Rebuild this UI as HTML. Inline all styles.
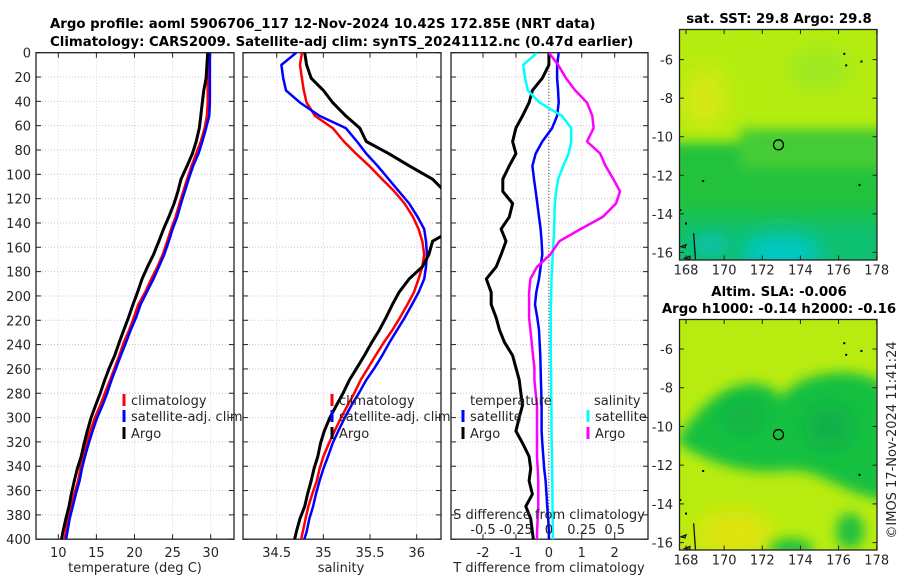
<!DOCTYPE html>
<html><head><meta charset="utf-8">
<style>
html,body{margin:0;padding:0;background:#fff;}
svg{display:block;font-family:"DejaVu Sans","Liberation Sans",sans-serif;}
.tk{font-size:13px;fill:#262626;}
.ttl{font-size:13.3px;font-weight:bold;fill:#000;}
</style></head>
<body>
<svg id="chart" width="900" height="580" viewBox="0 0 900 580" xmlns="http://www.w3.org/2000/svg">
<defs>
<filter id="blur6" x="-50%" y="-50%" width="200%" height="200%"><feGaussianBlur stdDeviation="6"/></filter>
<filter id="blur10" x="-50%" y="-50%" width="200%" height="200%"><feGaussianBlur stdDeviation="10"/></filter>
<clipPath id="cp1"><rect x="36" y="52.7" width="198" height="486.5"/></clipPath>
<clipPath id="cp2"><rect x="243" y="52.7" width="198" height="486.5"/></clipPath>
<clipPath id="cp3"><rect x="451" y="52.7" width="197" height="486.5"/></clipPath>
<clipPath id="cpm1"><rect x="679.5" y="29.5" width="197.5" height="230.5"/></clipPath>
<clipPath id="cpm2"><rect x="679.5" y="319.5" width="197.5" height="230.5"/></clipPath>
</defs>
<text class="ttl" x="50" y="28">Argo profile: aoml 5906706_117 12-Nov-2024 10.42S 172.85E (NRT data)</text>
<text class="ttl" x="50" y="46">Climatology: CARS2009. Satellite-adj clim: synTS_20241112.nc (0.47d earlier)</text>
<g id="plots"></g>
</svg>
<script>
// depth levels (m)
const depths = [0,10,21,31,41,52,62,73,83,93,104,114,124,135,145,155,166,176,186,197,207,218,228,238,249,259,269,280,290,300,311,321,332,342,352,363,373,383,394,404,414];
const tClim = [29.6,29.6,29.6,29.6,29.6,29.5,29.2,28.7,28.1,27.5,26.9,26.4,25.9,25.4,24.8,24.3,23.7,23.0,22.2,21.4,20.5,19.9,19.3,18.6,18.0,17.4,16.8,16.1,15.5,14.8,14.2,13.7,13.2,12.9,12.6,12.1,11.7,11.3,11.0,10.7,10.4];
const tSat = [29.9,29.9,29.9,29.9,29.9,29.8,29.4,28.9,28.4,27.7,27.1,26.6,26.1,25.6,25.0,24.5,23.9,23.2,22.5,21.6,20.8,20.2,19.5,18.9,18.2,17.6,17.0,16.4,15.8,15.1,14.5,14.0,13.5,13.1,12.8,12.3,11.9,11.5,11.2,10.9,10.6];
const tArgo = [29.6,29.5,29.4,29.1,28.9,28.7,28.5,28.1,27.6,26.9,26.1,25.7,25.2,24.5,23.8,23.2,22.5,21.7,21.0,20.4,19.8,19.2,18.6,18.0,17.4,16.7,16.1,15.5,14.9,14.3,13.8,13.4,13.0,12.5,12.1,11.7,11.4,11.0,10.6,10.3,10.1];
const sClim = [34.77,34.75,34.77,34.79,34.82,34.91,35.1,35.22,35.35,35.49,35.63,35.76,35.87,35.96,36.02,36.06,36.08,36.06,36.02,35.97,35.9,35.82,35.74,35.65,35.56,35.48,35.4,35.33,35.26,35.19,35.12,35.06,35.0,34.96,34.93,34.88,34.84,34.81,34.78,34.75,34.73];
const sSat = [34.71,34.55,34.57,34.6,34.75,34.96,35.24,35.36,35.46,35.58,35.7,35.81,35.92,36.01,36.08,36.1,36.11,36.1,36.08,36.02,35.95,35.87,35.79,35.71,35.63,35.55,35.46,35.38,35.3,35.23,35.16,35.1,35.05,35.0,34.96,34.92,34.89,34.85,34.82,34.78,34.75];
const sArgo = [34.8,34.82,34.87,35.0,35.1,35.24,35.39,35.46,35.7,35.92,36.17,36.3,36.4,36.45,36.4,36.17,36.13,36.06,35.92,35.81,35.74,35.67,35.6,35.52,35.44,35.36,35.28,35.21,35.14,35.07,35.01,34.97,34.94,34.9,34.87,34.83,34.8,34.75,34.71,34.68,34.66];
const dTsat = [0.3,0.25,0.25,0.28,0.3,0.25,0.1,-0.2,-0.4,-0.5,-0.45,-0.4,-0.35,-0.3,-0.25,-0.22,-0.2,-0.25,-0.3,-0.38,-0.42,-0.35,-0.3,-0.28,-0.26,-0.25,-0.24,-0.23,-0.22,-0.22,-0.22,-0.2,-0.17,-0.14,-0.1,-0.07,-0.05,-0.02,0,0,0];
const dTargo = [0,0,-0.2,-0.5,-0.6,-0.8,-1.0,-1.1,-1.0,-1.2,-1.4,-1.4,-1.1,-1.2,-1.45,-1.3,-1.45,-1.6,-1.9,-1.75,-1.75,-1.6,-1.5,-1.35,-1.1,-1.0,-0.9,-0.85,-0.8,-0.9,-1.0,-0.8,-0.6,-0.55,-0.6,-0.5,-0.7,-0.55,-0.5,-0.45,-0.4];
const dSsat = [-0.09,-0.195,-0.18,-0.16,-0.07,0.1,0.17,0.17,0.15,0.11,0.07,0.055,0.045,0.042,0.04,0.035,0.03,0.025,0.02,0.018,0.015,0.015,0.015,0.015,0.015,0.016,0.017,0.018,0.019,0.02,0.02,0.022,0.024,0.025,0.026,0.027,0.028,0.029,0.03,0.03,0.03];
const dSargo = [0.0,0.07,0.13,0.2,0.29,0.33,0.34,0.29,0.39,0.43,0.49,0.54,0.51,0.41,0.24,0.08,0.01,-0.09,-0.14,-0.15,-0.15,-0.15,-0.14,-0.13,-0.12,-0.11,-0.11,-0.1,-0.09,-0.09,-0.09,-0.09,-0.09,-0.085,-0.08,-0.08,-0.08,-0.085,-0.09,-0.09,-0.09];
const depthTicks = [0,20,40,60,80,100,120,140,160,180,200,220,240,260,280,300,320,340,360,380,400];
const tTicks = [10,15,20,25,30];
const sTicks = [34.5,35,35.5,36];
const dtTicks = [-2,-1,0,1,2];
const dsTickLabels = ["-0.5","-0.25","0","0.25","0.5"];
const dsTicks = [-0.5,-0.25,0,0.25,0.5];
const lonTicks = [168,170,172,174,176,178];
const latTicks = [-6,-8,-10,-12,-14,-16];
const argoLon = 172.85, argoLat = -10.42;

const NS="http://www.w3.org/2000/svg";
const root=document.getElementById('plots');
function mk(tag,attrs,parent){const e=document.createElementNS(NS,tag);for(const k in attrs)e.setAttribute(k,attrs[k]);(parent||root).appendChild(e);return e;}
const Y0=52.7,Y1=539.2;
const yD=d=>Y0+(d/400)*(Y1-Y0);
function lin(d0,d1,r0,r1){return v=>r0+(v-d0)/(d1-d0)*(r1-r0);}

function axesFrame(x0,x1,xs,xticks,xlabels,name,showY){
  const g=mk('g',{});
  
  
  depthTicks.forEach(d=>{
    mk('line',{x1:x0,x2:x1,y1:yD(d),y2:yD(d),stroke:'#c4c8e4','stroke-width':1,'stroke-dasharray':'1,2'},g);
    mk('line',{x1:x0,x2:x0+5,y1:yD(d),y2:yD(d),stroke:'#222'},g);
    mk('line',{x1:x1-5,x2:x1,y1:yD(d),y2:yD(d),stroke:'#222'},g);
    if(showY){const t=mk('text',{x:x0-5,y:yD(d)+5,'text-anchor':'end',class:'tk'},g);t.textContent=d;
      
      }
  });
  xticks.forEach((v,i)=>{
    const x=xs(v);
    mk('line',{x1:x,x2:x,y1:Y0,y2:Y1,stroke:'#e0c8d0','stroke-width':1,'stroke-dasharray':'1,2'},g);
    mk('line',{x1:x,x2:x,y1:Y1-5,y2:Y1,stroke:'#222'},g);
    mk('line',{x1:x,x2:x,y1:Y0,y2:Y0+5,stroke:'#222'},g);
    const t=mk('text',{x:x,y:557,'text-anchor':'middle',class:'tk'},g);t.textContent=xlabels[i];
    
    
  });
  mk('rect',{x:x0,y:Y0,width:x1-x0,height:Y1-Y0,fill:'none',stroke:'#222','stroke-width':1.3},g);
}
function profile(xs,vals,color,w,clip,name){
  const pts=vals.map((v,i)=>xs(v).toFixed(1)+','+yD(depths[i]).toFixed(1)).join(' ');
  const p=mk('polyline',{points:pts,fill:'none',stroke:color,'stroke-width':w,'stroke-linejoin':'round','clip-path':'url(#'+clip+')'});
  
  
}
function legend(x,y,color,label,name){
  const g=mk('g',{});
  
  
  mk('line',{x1:x,x2:x,y1:y-7,y2:y+5,stroke:color,'stroke-width':3},g);
  const t=mk('text',{x:x+7,y:y+4,class:'tk'},g);t.textContent=label;
}
function label(x,y,txt,name,anchor){const t=mk('text',{x:x,y:y,'text-anchor':anchor||'middle',class:'tk'});t.textContent=txt;
  
  return t;}

// panel 1 temperature
const xT=lin(10,30,58.3,210.7);
axesFrame(36,234,xT,tTicks,tTicks,'temperature',true);
profile(xT,tClim,'#ff0000',2.5,'cp1','temp-climatology-line');
profile(xT,tSat,'#0000ff',2.5,'cp1','temp-satellite-line');
profile(xT,tArgo,'#000000',3,'cp1','temp-argo-line');
legend(124,401,'#ff0000','climatology','legend-climatology');
legend(124,417,'#0000ff','satellite-adj. clim','legend-satellite');
legend(124,434,'#000000','Argo','legend-argo');
label(135,572,'temperature (deg C)','x-axis-title-temperature');

// panel 2 salinity
const xS=lin(34.5,36,276.7,416.7);
axesFrame(243,441,xS,sTicks,sTicks,'salinity',false);
profile(xS,sClim,'#ff0000',2.5,'cp2','sal-climatology-line');
profile(xS,sSat,'#0000ff',2.5,'cp2','sal-satellite-line');
profile(xS,sArgo,'#000000',3,'cp2','sal-argo-line');
legend(332,401,'#ff0000','climatology','legend-climatology-2');
legend(332,417,'#0000ff','satellite-adj. clim','legend-satellite-2');
legend(332,434,'#000000','Argo','legend-argo-2');
label(341,572,'salinity','x-axis-title-salinity');

// panel 3 differences
const xDT=lin(-2,2,483,614.7);
const xDS=lin(-0.5,0.5,483,614.7);
axesFrame(451,648,xDT,dtTicks,dtTicks,'difference',false);
const zl=mk('line',{x1:xDT(0),x2:xDT(0),y1:Y0,y2:Y1,stroke:'#333','stroke-width':1,'stroke-dasharray':'1,2'});


profile(xDT,dTargo,'#000000',3,'cp3','dT-argo-line');
profile(xDT,dTsat,'#0000ff',2.5,'cp3','dT-satellite-line');
profile(xDS,dSsat,'#00ffff',2.5,'cp3','dS-satellite-line');
profile(xDS,dSargo,'#ff00ff',2.5,'cp3','dS-argo-line');
label(470,405,'temperature','legend-header-temperature','start');
legend(463,417,'#0000ff','satellite','legend-t-satellite');
legend(463,434,'#000000','Argo','legend-t-argo');
label(594,405,'salinity','legend-header-salinity','start');
legend(588,417,'#00ffff','satellite','legend-s-satellite');
legend(588,434,'#ff00ff','Argo','legend-s-argo');
label(549,519,'S difference from climatology','s-diff-axis-title');
dsTicks.forEach((v,i)=>label(xDS(v),534,dsTickLabels[i],'s-diff-tick-label'));
label(549,572,'T difference from climatology','x-axis-title-t-diff');

// maps
const xLon=lin(168,178,686,876.7);
function mapAxes(top,lat6,lat16,name,clip,draw){
  const yLat=lin(-6,-16,lat6,lat16);
  const g=mk('g',{'clip-path':'url(#'+clip+')'});
  
  
  draw(g,yLat);
  mk('path',{d:`M${xLon(168.4)},${yLat(-15.0)} L${xLon(168.5)},${yLat(-16.4)} M${xLon(168.0)},${yLat(-15.6)} l-5,2 l4,1 z M${xLon(168.2)},${yLat(-16.2)} l-5,2 l5,1 z`,stroke:'#111','stroke-width':1.3,fill:'#e8b080'},g);
  [[176.3,-5.7],[177.2,-6.1],[176.4,-6.3],[168.9,-12.3],[177.1,-12.5],[167.7,-13.8],[168.0,-14.5]].forEach(p=>mk('rect',{x:xLon(p[0])-1,y:yLat(p[1])-1,width:2,height:2,fill:'#000'},g));
  const c=mk('circle',{cx:xLon(argoLon),cy:yLat(argoLat),r:5,fill:'none',stroke:'#000','stroke-width':1.3});
  
  
  mk('rect',{x:679.5,y:top,width:197.5,height:230.5,fill:'none',stroke:'#222','stroke-width':1.3});
  lonTicks.forEach(v=>{mk('line',{x1:xLon(v),x2:xLon(v),y1:top+230.5,y2:top+226,stroke:'#222'});
    mk('line',{x1:xLon(v),x2:xLon(v),y1:top,y2:top+4.5,stroke:'#222'});
    label(xLon(v),top+245,String(v),'lon-tick-label');});
  latTicks.forEach(v=>{mk('line',{x1:679.5,x2:684,y1:yLat(v),y2:yLat(v),stroke:'#222'});
    mk('line',{x1:872.5,x2:877,y1:yLat(v),y2:yLat(v),stroke:'#222'});
    label(673,yLat(v)+5,String(v),'lat-tick-label','end');});
}
mapAxes(29.5,59.6,252.4,'sst-map','cpm1',(g,yLat)=>{
  mk('rect',{x:670,y:20,width:220,height:250,fill:'#b4ec10'},g);
  mk('ellipse',{cx:xLon(169),cy:yLat(-8),rx:22,ry:30,fill:'#d6e812',filter:'url(#blur10)'},g);
  mk('ellipse',{cx:xLon(175),cy:yLat(-6.5),rx:30,ry:20,fill:'#9ce820',filter:'url(#blur10)'},g);
  mk('rect',{x:670,y:yLat(-10.3),width:220,height:200,fill:'#22c23c',filter:'url(#blur6)'},g);
  mk('rect',{x:740,y:yLat(-9.6),width:150,height:40,fill:'#44cc34',filter:'url(#blur6)'},g);
  mk('rect',{x:670,y:yLat(-14.2),width:220,height:100,fill:'#10c070',filter:'url(#blur10)'},g);
  mk('ellipse',{cx:xLon(173),cy:yLat(-16),rx:40,ry:18,fill:'#00c8c8',filter:'url(#blur10)'},g);
  mk('ellipse',{cx:xLon(169.3),cy:yLat(-15.6),rx:18,ry:12,fill:'#10c0a0',filter:'url(#blur6)'},g);
});
mapAxes(319.5,349,542.6,'sla-map','cpm2',(g,yLat)=>{
  mk('rect',{x:670,y:310,width:220,height:250,fill:'#b8ec10'},g);
  mk('path',{d:`M${xLon(167.5)},${yLat(-10.8)} C${xLon(169.5)},${yLat(-7.5)} ${xLon(172)},${yLat(-7.2)} ${xLon(173)},${yLat(-8.5)} C${xLon(174)},${yLat(-7)} ${xLon(177.5)},${yLat(-6.8)} ${xLon(178.5)},${yLat(-8)} L${xLon(178.5)},${yLat(-13.8)} C${xLon(176)},${yLat(-13.5)} ${xLon(175)},${yLat(-12)} ${xLon(173)},${yLat(-12.3)} C${xLon(171)},${yLat(-12.5)} ${xLon(169)},${yLat(-11.8)} ${xLon(167.5)},${yLat(-10.8)} Z`,fill:'#18c040',filter:'url(#blur6)'},g);
  mk('ellipse',{cx:xLon(171),cy:yLat(-9.5),rx:20,ry:14,fill:'#10b048',filter:'url(#blur10)'},g);
  mk('ellipse',{cx:xLon(175.5),cy:yLat(-10),rx:24,ry:22,fill:'#10b048',filter:'url(#blur10)'},g);
  mk('ellipse',{cx:xLon(170.5),cy:yLat(-15.5),rx:40,ry:22,fill:'#e0e410',filter:'url(#blur10)'},g);
  mk('ellipse',{cx:xLon(176.6),cy:yLat(-15.4),rx:14,ry:18,fill:'#20c040',filter:'url(#blur6)'},g);
  mk('ellipse',{cx:xLon(173.5),cy:yLat(-16.3),rx:22,ry:10,fill:'#20c040',filter:'url(#blur6)'},g);
});
const t1=mk('text',{x:779,y:23,'text-anchor':'middle',class:'ttl'});t1.textContent='sat. SST: 29.8 Argo: 29.8';


const t2=mk('text',{x:779,y:296,'text-anchor':'middle',class:'ttl'});t2.textContent='Altim. SLA: -0.006';


const t3=mk('text',{x:779,y:313,'text-anchor':'middle',class:'ttl'});t3.textContent='Argo h1000: -0.14 h2000: -0.16';


const t4=mk('text',{x:0,y:0,'text-anchor':'middle',class:'tk',transform:'translate(896,440) rotate(-90)'});t4.textContent='©IMOS 17-Nov-2024 11:41:24';


</script>
</body></html>
